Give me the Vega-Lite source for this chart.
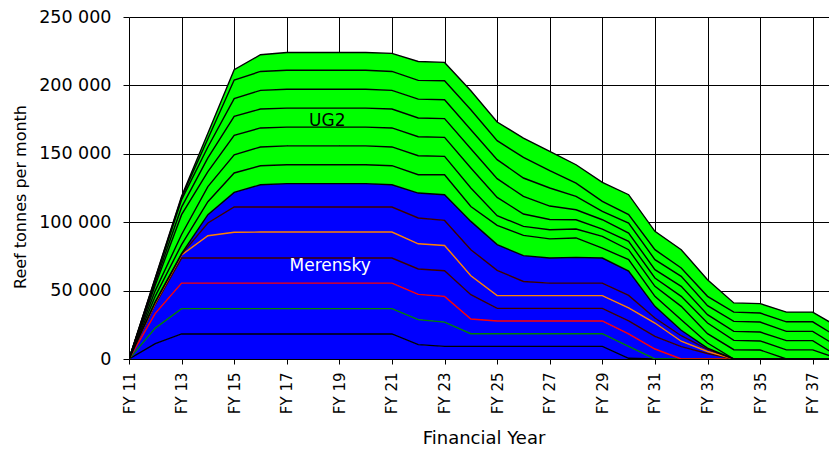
{
  "$schema": "https://vega.github.io/schema/vega-lite/v6.json",
  "width": 700,
  "height": 342,
  "autosize": {"type": "none"},
  "padding": {"left": 129, "top": 17, "right": 0, "bottom": 90},
  "background": "white",
  "config": {"view": {"stroke": null}, "font": "DejaVu Sans"},
  "layer": [
    {
      "data": {
        "values": [
          {"yr": 11, "m1": 0, "m2": 0, "m3": 0, "m4": 0, "m5": 0, "m6": 0, "m7": 0, "u1": 0, "u2": 0, "u3": 0, "u4": 0, "u5": 0, "u6": 0, "u7": 0},
          {"yr": 12, "m1": 11200, "m2": 11400, "m3": 10800, "m4": 6600, "m5": 1000, "m6": 500, "m7": 500, "u1": 4000, "u2": 4000, "u3": 4000, "u4": 2000, "u5": 2000, "u6": 1000, "u7": 500},
          {"yr": 13, "m1": 18300, "m2": 18500, "m3": 18700, "m4": 18300, "m5": 2200, "m6": 500, "m7": 500, "u1": 6600, "u2": 7400, "u3": 14500, "u4": 5500, "u5": 5500, "u6": 1500, "u7": 1000},
          {"yr": 14, "m1": 18300, "m2": 18500, "m3": 18700, "m4": 18300, "m5": 16300, "m6": 9300, "m7": 6100, "u1": 9500, "u2": 11000, "u3": 11000, "u4": 10000, "u5": 8000, "u6": 6000, "u7": 4000},
          {"yr": 15, "m1": 18300, "m2": 18500, "m3": 18700, "m4": 18300, "m5": 18800, "m6": 18500, "m7": 10700, "u1": 14200, "u2": 13300, "u3": 14200, "u4": 13900, "u5": 12900, "u6": 13600, "u7": 7600},
          {"yr": 16, "m1": 18300, "m2": 18500, "m3": 18700, "m4": 18300, "m5": 19000, "m6": 18300, "m7": 16300, "u1": 13900, "u2": 13700, "u3": 13900, "u4": 13800, "u5": 13700, "u6": 13800, "u7": 12200},
          {"yr": 17, "m1": 18300, "m2": 18500, "m3": 18700, "m4": 18300, "m5": 19000, "m6": 18300, "m7": 17100, "u1": 13800, "u2": 13800, "u3": 13700, "u4": 13900, "u5": 13800, "u6": 13900, "u7": 13000},
          {"yr": 18, "m1": 18300, "m2": 18500, "m3": 18700, "m4": 18300, "m5": 19000, "m6": 18300, "m7": 17100, "u1": 13800, "u2": 13800, "u3": 13700, "u4": 13900, "u5": 13800, "u6": 13900, "u7": 13000},
          {"yr": 19, "m1": 18300, "m2": 18500, "m3": 18700, "m4": 18300, "m5": 19000, "m6": 18300, "m7": 17100, "u1": 13800, "u2": 13800, "u3": 13700, "u4": 13900, "u5": 13800, "u6": 13900, "u7": 13000},
          {"yr": 20, "m1": 18300, "m2": 18500, "m3": 18700, "m4": 18300, "m5": 19000, "m6": 18300, "m7": 17100, "u1": 13800, "u2": 13800, "u3": 13700, "u4": 13900, "u5": 13800, "u6": 13900, "u7": 13000},
          {"yr": 21, "m1": 18300, "m2": 18500, "m3": 18700, "m4": 18300, "m5": 19000, "m6": 18300, "m7": 16300, "u1": 13900, "u2": 13700, "u3": 13900, "u4": 13800, "u5": 13700, "u6": 13800, "u7": 13200},
          {"yr": 22, "m1": 10500, "m2": 18300, "m3": 18400, "m4": 18600, "m5": 18400, "m6": 18900, "m7": 18200, "u1": 13400, "u2": 13900, "u3": 13900, "u4": 13700, "u5": 13800, "u6": 13700, "u7": 13800},
          {"yr": 23, "m1": 9200, "m2": 17800, "m3": 18800, "m4": 18700, "m5": 18500, "m6": 18300, "m7": 18800, "u1": 14600, "u2": 13400, "u3": 13900, "u4": 13700, "u5": 13800, "u6": 13900, "u7": 13400},
          {"yr": 24, "m1": 9200, "m2": 9300, "m3": 10700, "m4": 17800, "m5": 13900, "m6": 19000, "m7": 20700, "u1": 10900, "u2": 13500, "u3": 14600, "u4": 14100, "u5": 13900, "u6": 14600, "u7": 13900},
          {"yr": 25, "m1": 9200, "m2": 9300, "m3": 9300, "m4": 9200, "m5": 9300, "m6": 18500, "m7": 18800, "u1": 14100, "u2": 7100, "u3": 13300, "u4": 13700, "u5": 13900, "u6": 13900, "u7": 13600},
          {"yr": 26, "m1": 9200, "m2": 9300, "m3": 9300, "m4": 9200, "m5": 9300, "m6": 10400, "m7": 18900, "u1": 14800, "u2": 6500, "u3": 9100, "u4": 12900, "u5": 13400, "u6": 15100, "u7": 14100},
          {"yr": 27, "m1": 9200, "m2": 9300, "m3": 9300, "m4": 9200, "m5": 9300, "m6": 9200, "m7": 18300, "u1": 14000, "u2": 6700, "u3": 7500, "u4": 9800, "u5": 13200, "u6": 12700, "u7": 14100},
          {"yr": 28, "m1": 9200, "m2": 9300, "m3": 9300, "m4": 9200, "m5": 9300, "m6": 9200, "m7": 18800, "u1": 14200, "u2": 6500, "u3": 6800, "u4": 7300, "u5": 9800, "u6": 9700, "u7": 13400},
          {"yr": 29, "m1": 9200, "m2": 9300, "m3": 9300, "m4": 9200, "m5": 9300, "m6": 9200, "m7": 18300, "u1": 7300, "u2": 8500, "u3": 5400, "u4": 6800, "u5": 6100, "u6": 7300, "u7": 13900},
          {"yr": 30, "m1": 500, "m2": 8700, "m3": 9100, "m4": 9500, "m5": 9500, "m6": 9200, "m7": 17700, "u1": 8400, "u2": 7300, "u3": 6100, "u4": 6100, "u5": 7300, "u6": 6100, "u7": 14600},
          {"yr": 31, "m1": 0, "m2": 0, "m3": 7300, "m4": 9200, "m5": 9800, "m6": 3700, "m7": 8500, "u1": 7300, "u2": 7300, "u3": 6100, "u4": 6100, "u5": 7300, "u6": 7300, "u7": 13400},
          {"yr": 32, "m1": 0, "m2": 0, "m3": 0, "m4": 9000, "m5": 4000, "m6": 4000, "m7": 4000, "u1": 7700, "u2": 9800, "u3": 7300, "u4": 7300, "u5": 7300, "u6": 6100, "u7": 13400},
          {"yr": 33, "m1": 0, "m2": 0, "m3": 0, "m4": 4000, "m5": 1500, "m6": 1500, "m7": 1000, "u1": 3700, "u2": 6800, "u3": 7800, "u4": 6100, "u5": 6600, "u6": 6800, "u7": 12200},
          {"yr": 34, "m1": 0, "m2": 0, "m3": 0, "m4": 0, "m5": 0, "m6": 0, "m7": 0, "u1": 0, "u2": 6800, "u3": 6800, "u4": 6600, "u5": 7300, "u6": 6800, "u7": 6700},
          {"yr": 35, "m1": 0, "m2": 0, "m3": 0, "m4": 0, "m5": 0, "m6": 0, "m7": 0, "u1": 0, "u2": 6600, "u3": 6600, "u4": 6500, "u5": 7300, "u6": 6600, "u7": 6900},
          {"yr": 36, "m1": 0, "m2": 0, "m3": 0, "m4": 0, "m5": 0, "m6": 0, "m7": 0, "u1": 0, "u2": 0, "u3": 6700, "u4": 6700, "u5": 6800, "u6": 7000, "u7": 7100},
          {"yr": 37, "m1": 0, "m2": 0, "m3": 0, "m4": 0, "m5": 0, "m6": 0, "m7": 0, "u1": 0, "u2": 0, "u3": 6700, "u4": 6700, "u5": 6800, "u6": 7000, "u7": 7100},
          {"yr": 38, "m1": 0, "m2": 0, "m3": 0, "m4": 0, "m5": 0, "m6": 0, "m7": 0, "u1": 0, "u2": 0, "u3": 0, "u4": 1500, "u5": 7000, "u6": 7000, "u7": 7500}
        ]
      },
      "transform": [
        {"fold": ["m1", "m2", "m3", "m4", "m5", "m6", "m7", "u1", "u2", "u3", "u4", "u5", "u6", "u7"], "as": ["layer", "v"]},
        {"stack": "v", "groupby": ["yr"], "sort": [{"field": "layer", "order": "ascending"}], "as": ["v0", "v1"]}
      ],
      "encoding": {
        "x": {
          "field": "yr",
          "type": "quantitative",
          "scale": {"domain": [11, 37.62], "nice": false, "zero": false},
          "axis": {
            "values": [11, 12, 13, 14, 15, 16, 17, 18, 19, 20, 21, 22, 23, 24, 25, 26, 27, 28, 29, 30, 31, 32, 33, 34, 35, 36, 37],
            "labelExpr": "datum.value % 2 == 1 ? 'FY ' + datum.value : ''",
            "labelAngle": -90,
            "labelFontSize": 15,
            "labelColor": "#000",
            "labelFlush": false,
            "labelOverlap": false,
            "labelPadding": 8,
            "tickSize": 5,
            "tickColor": "#000",
            "grid": true,
            "gridColor": "#000",
            "gridOpacity": 1,
            "gridWidth": 1,
            "domain": false,
            "title": "Financial Year",
            "titleFontSize": 18,
            "titleFontWeight": "normal",
            "titleColor": "#000",
            "titleX": 354.5,
            "titleY": 84.5,
            "titleBaseline": "alphabetic"
          }
        },
        "y": {
          "field": "v1",
          "type": "quantitative",
          "scale": {"domain": [0, 250000], "nice": false},
          "axis": {
            "values": [0, 50000, 100000, 150000, 200000, 250000],
            "labelExpr": "replace(format(datum.value, ','), ',', ' ')",
            "labelFontSize": 17.5,
            "labelColor": "#000",
            "labelPadding": 12,
            "tickSize": 6,
            "tickColor": "#000",
            "grid": true,
            "gridColor": "#000",
            "gridOpacity": 1,
            "gridWidth": 1,
            "domain": false,
            "title": "Reef tonnes per month",
            "titleFontSize": 16,
            "titleFontWeight": "normal",
            "titleColor": "#000",
            "titleAngle": -90,
            "titleX": -103.5,
            "titleY": 179.5,
            "titleBaseline": "alphabetic"
          }
        }
      },
      "layer": [
        {
          "mark": {"type": "area", "clip": true, "opacity": 1},
          "encoding": {
            "y2": {"field": "v0"},
            "color": {
              "field": "layer",
              "type": "nominal",
              "scale": {
                "domain": ["m1", "m2", "m3", "m4", "m5", "m6", "m7", "u1", "u2", "u3", "u4", "u5", "u6", "u7"],
                "range": ["#0000ff", "#0000ff", "#0000ff", "#0000ff", "#0000ff", "#0000ff", "#0000ff", "#00ff00", "#00ff00", "#00ff00", "#00ff00", "#00ff00", "#00ff00", "#00ff00"]
              },
              "legend": null
            }
          }
        },
        {
          "mark": {"type": "line", "clip": true, "strokeWidth": 1.4},
          "encoding": {
            "stroke": {
              "field": "layer",
              "type": "nominal",
              "scale": {
                "domain": ["m1", "m2", "m3", "m4", "m5", "m6", "m7", "u1", "u2", "u3", "u4", "u5", "u6", "u7"],
                "range": ["#000000", "#008000", "#ff0000", "#3c0000", "#ff8000", "#3c0000", "#000000", "#000000", "#000000", "#000000", "#000000", "#000000", "#000000", "#000000"]
              },
              "legend": null
            }
          }
        }
      ]
    },
    {
      "mark": {"type": "rule", "color": "#555555", "strokeWidth": 3},
      "encoding": {"y": {"datum": 250000}}
    },
    {
      "mark": {"type": "rule", "color": "#000000", "strokeWidth": 2},
      "encoding": {"y": {"datum": 0}}
    },
    {
      "mark": {"type": "rule", "color": "#000000", "strokeWidth": 2.5},
      "encoding": {"x": {"datum": 11}}
    },
    {
      "data": {"values": [{"px": 18.54, "pv": 173800, "label": "UG2"}]},
      "mark": {"type": "text", "fontSize": 17, "color": "#000000", "align": "center", "baseline": "middle"},
      "encoding": {
        "x": {"field": "px", "type": "quantitative"},
        "y": {"field": "pv", "type": "quantitative"},
        "text": {"field": "label"}
      }
    },
    {
      "data": {"values": [{"px": 18.65, "pv": 67800, "label": "Merensky"}]},
      "mark": {"type": "text", "fontSize": 17, "color": "#ffffff", "align": "center", "baseline": "middle"},
      "encoding": {
        "x": {"field": "px", "type": "quantitative"},
        "y": {"field": "pv", "type": "quantitative"},
        "text": {"field": "label"}
      }
    }
  ]
}
